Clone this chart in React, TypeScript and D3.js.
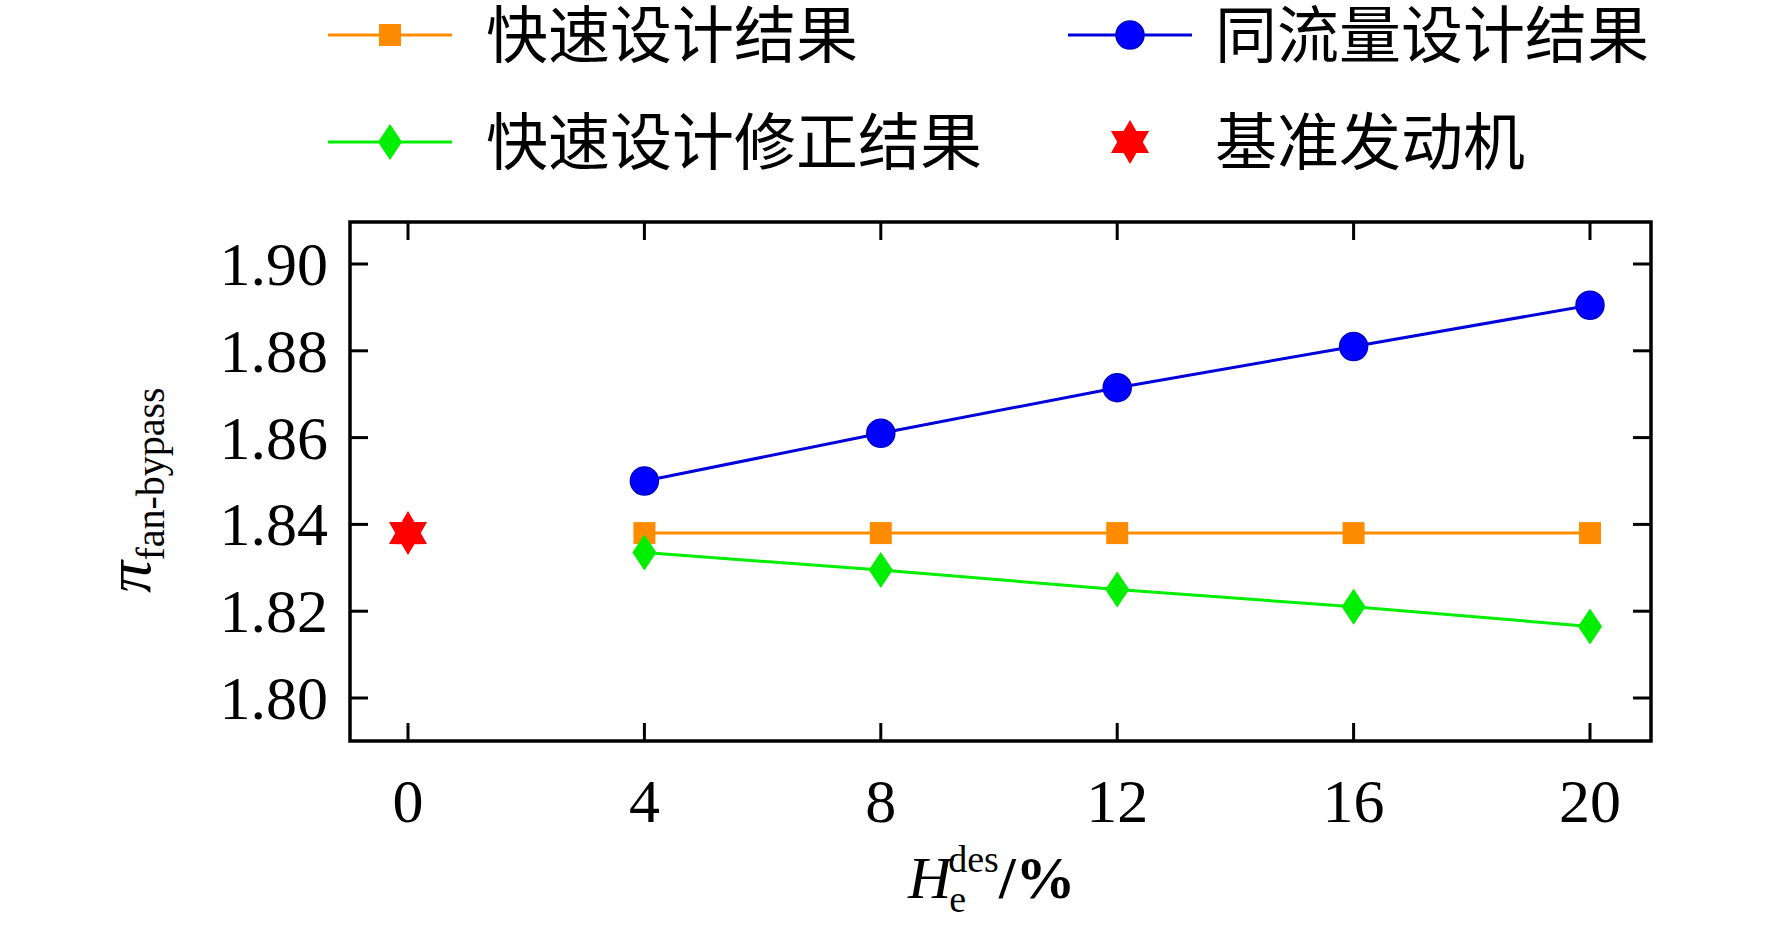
import React from "react";
import * as d3 from "d3";

const xs = [4, 8, 12, 16, 20];
const fast = [1.838, 1.838, 1.838, 1.838, 1.838];
const sameFlow = [1.85, 1.861, 1.8715, 1.881, 1.8905];
const corrected = [1.8335, 1.8295, 1.825, 1.821, 1.8165];
const baseline = { x: 0, y: 1.838 };
const xTicks = [0, 4, 8, 12, 16, 20];
const yTicks = [1.8, 1.82, 1.84, 1.86, 1.88, 1.9];

const L = 350, R = 1651, T = 222, B = 741;
const x = d3.scaleLinear().domain([0, 20]).range([408, 1590]);
const y = d3.scaleLinear().domain([1.8, 1.9]).range([698, 264]);
const serif = "'Liberation Serif', 'Times New Roman', serif";
const cjk = "'Noto Sans CJK SC', sans-serif";

function starPath(cx: number, cy: number, r: number) {
  const pts: string[] = [];
  for (let i = 0; i < 12; i++) {
    const rr = i % 2 === 0 ? r : r * 0.58;
    const a = (Math.PI / 6) * i - Math.PI / 2;
    pts.push(`${cx + rr * Math.cos(a)},${cy + rr * Math.sin(a)}`);
  }
  return "M" + pts.join("L") + "Z";
}
const square = (cx: number, cy: number, key: any) => <rect key={key} x={cx - 11} y={cy - 11} width={22} height={22} fill="#ff8c00" />;
const circle = (cx: number, cy: number, key: any) => <circle key={key} cx={cx} cy={cy} r={14} fill="#0000ff" stroke="#0000cc" strokeWidth={1.5} />;
const diamond = (cx: number, cy: number, key: any) => <path key={key} d={`M${cx},${cy - 18}L${cx + 12},${cy}L${cx},${cy + 18}L${cx - 12},${cy}Z`} fill="#00ee00" />;

export default function App() {
  const line = (vals: number[]) => d3.line<number>().x((_, i) => x(xs[i])).y((v) => y(v))(vals) || "";
  return (
    <svg width={1772} height={946} style={{ position: "absolute", left: 0, top: 0, background: "#fff" }}>
      <rect x={L} y={T} width={R - L} height={B - T} fill="none" stroke="#000" strokeWidth={3.5} />
      {xTicks.map((t) => (
        <g key={"x" + t}>
          <line x1={x(t)} x2={x(t)} y1={B} y2={B - 18} stroke="#000" strokeWidth={3} />
          <line x1={x(t)} x2={x(t)} y1={T} y2={T + 18} stroke="#000" strokeWidth={3} />
          <text x={x(t)} y={822} textAnchor="middle" fontFamily={serif} fontSize={62}>{t}</text>
        </g>
      ))}
      {yTicks.map((t) => (
        <g key={"y" + t}>
          <line x1={L} x2={L + 18} y1={y(t)} y2={y(t)} stroke="#000" strokeWidth={3} />
          <line x1={R} x2={R - 18} y1={y(t)} y2={y(t)} stroke="#000" strokeWidth={3} />
          <text x={328} y={y(t) + 21} textAnchor="end" fontFamily={serif} fontSize={62}>{t.toFixed(2)}</text>
        </g>
      ))}
      <path d={line(fast)} fill="none" stroke="#ff8c00" strokeWidth={3} />
      <path d={line(sameFlow)} fill="none" stroke="#0000dd" strokeWidth={3} />
      <path d={line(corrected)} fill="none" stroke="#00ee00" strokeWidth={3} />
      {fast.map((v, i) => square(x(xs[i]), y(v), "f" + i))}
      {sameFlow.map((v, i) => circle(x(xs[i]), y(v), "s" + i))}
      {corrected.map((v, i) => diamond(x(xs[i]), y(v), "c" + i))}
      <path d={starPath(x(baseline.x), y(baseline.y), 22)} fill="#ff0000" />

      <text transform="translate(150,490) rotate(-90)" textAnchor="middle" fontFamily={serif}>
        <tspan fontSize={64} fontStyle="italic">π</tspan>
        <tspan fontSize={40} dy={14}>fan-bypass</tspan>
      </text>
      <text x={908} y={898} fontFamily={serif} fontSize={60}>
        <tspan fontStyle="italic">H</tspan>
        <tspan fontSize={38} dx={-2} dy={14}>e</tspan>
        <tspan fontSize={38} dx={-18} dy={-40}>des</tspan>
        <tspan dy={26} fontWeight="bold">/%</tspan>
      </text>

      <line x1={328} x2={452} y1={35} y2={35} stroke="#ff8c00" strokeWidth={3} />
      {square(390, 35, "l1")}
      <text x={486} y={58} fontFamily={cjk} fontSize={62}>快速设计结果</text>
      <line x1={1068} x2={1192} y1={35} y2={35} stroke="#0000dd" strokeWidth={3} />
      {circle(1130, 35, "l2")}
      <text x={1215} y={58} fontFamily={cjk} fontSize={62}>同流量设计结果</text>
      <line x1={328} x2={452} y1={142} y2={142} stroke="#00ee00" strokeWidth={3} />
      {diamond(390, 142, "l3")}
      <text x={486} y={165} fontFamily={cjk} fontSize={62}>快速设计修正结果</text>
      <path d={starPath(1130, 142, 22)} fill="#ff0000" />
      <text x={1215} y={165} fontFamily={cjk} fontSize={62}>基准发动机</text>
    </svg>
  );
}
